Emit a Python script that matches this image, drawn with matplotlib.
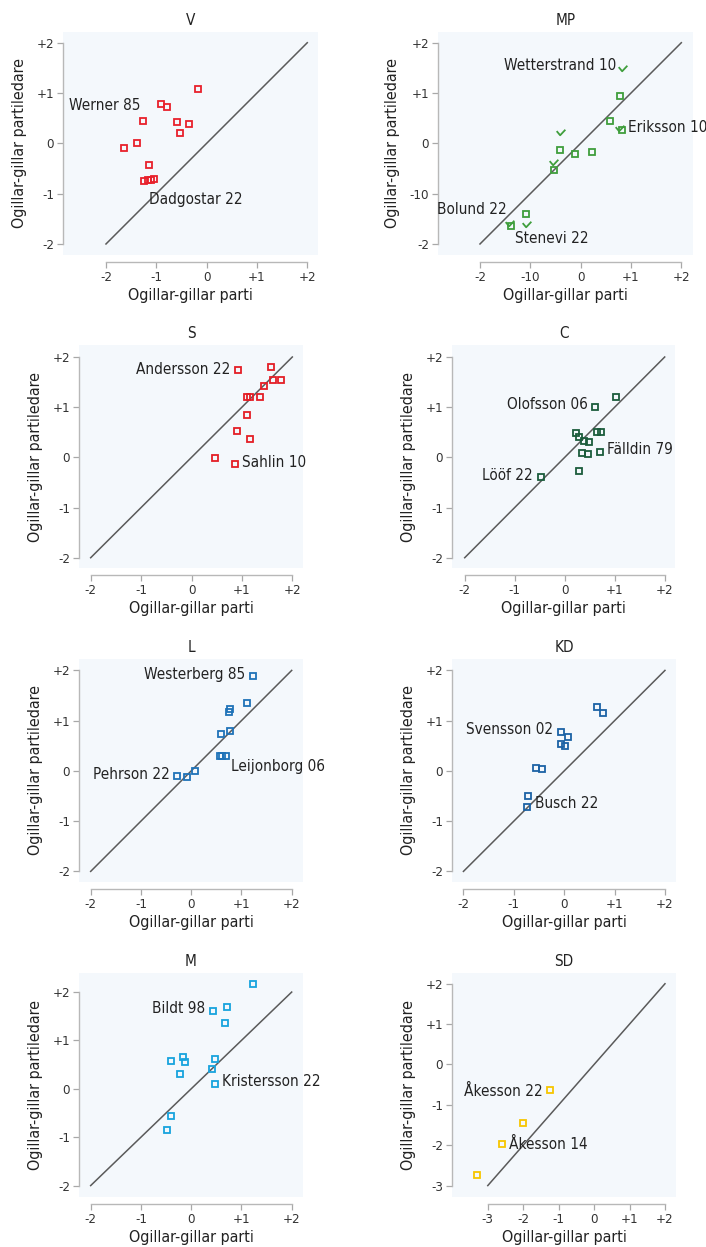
import matplotlib
matplotlib.use("Agg")
from matplotlib import pyplot as plt
from matplotlib.path import Path

plt.rcParams["font.family"] = ["DejaVu Sans"]
plt.rcParams["font.stretch"] = "condensed"

# ---- data (party score, leader score) ----
v_x = [-0.17, -0.91, -0.78, -1.26, -0.59, -0.36, -0.53, -1.39, -1.64, -1.15, -1.24, -1.17, -1.10, -1.05]
v_y = [1.09, 0.78, 0.72, 0.45, 0.43, 0.39, 0.21, 0.01, -0.09, -0.44, -0.74, -0.73, -0.72, -0.71]

mp_x = [0.82, 0.775, 0.59, 0.755, 0.83, -0.42, -0.42, -0.12, 0.23, -0.55, -0.52, -1.09, -1.42, -1.39, -1.09]
mp_y = [1.50, 0.94, 0.45, 0.30, 0.27, 0.23, -0.13, -0.22, -0.17, -0.38, -0.52, -1.40, -1.58, -1.64, -1.60]
mp_kind = ["ck", "sq", "sq", "ck", "sq", "ck", "sq", "sq", "sq", "ck", "sq", "sq", "ck", "sq", "ck"]

s_x = [0.92, 1.58, 1.62, 1.78, 1.44, 1.10, 1.16, 1.35, 1.10, 0.90, 1.16, 0.47, 0.86]
s_y = [1.74, 1.80, 1.55, 1.55, 1.42, 1.20, 1.20, 1.20, 0.84, 0.52, 0.37, -0.01, -0.13]

c_x = [1.02, 0.61, 0.23, 0.28, 0.64, 0.72, 0.39, 0.48, 0.34, 0.47, 0.71, 0.28, -0.47]
c_y = [1.21, 1.01, 0.49, 0.41, 0.51, 0.51, 0.33, 0.31, 0.08, 0.06, 0.11, -0.28, -0.39]

l_x = [1.24, 1.11, 0.77, 0.75, 0.78, 0.60, 0.57, 0.62, 0.69, 0.08, -0.08, -0.29]
l_y = [1.88, 1.36, 1.24, 1.18, 0.79, 0.73, 0.30, 0.30, 0.30, 0.00, -0.13, -0.10]

kd_x = [0.65, 0.77, -0.07, 0.07, -0.06, 0.01, -0.55, -0.44, -0.71, -0.74]
kd_y = [1.27, 1.16, 0.77, 0.68, 0.54, 0.49, 0.05, 0.03, -0.50, -0.71]

m_x = [1.23, 0.72, 0.43, 0.68, -0.17, -0.13, -0.40, -0.22, 0.47, 0.42, 0.48, -0.41, -0.48]
m_y = [2.17, 1.70, 1.61, 1.36, 0.66, 0.56, 0.58, 0.31, 0.62, 0.40, 0.11, -0.56, -0.85]

sd_x = [-1.25, -2.00, -2.60, -3.31]
sd_y = [-0.64, -1.44, -1.96, -2.74]

# marker labels: (text, index of labelled point)
v_labels = [("Werner 85", 3), ("Dadgostar 22", 11)]
mp_labels = [("Wetterstrand 10", 0), ("Eriksson 10", 4), ("Bolund 22", 13), ("Stenevi 22", 14)]
s_labels = [("Andersson 22", 0), ("Sahlin 10", 12)]
c_labels = [("Olofsson 06", 1), ("Fälldin 79", 10), ("Lööf 22", 12)]
l_labels = [("Westerberg 85", 0), ("Leijonborg 06", 8), ("Pehrson 22", 11)]
kd_labels = [("Svensson 02", 2), ("Busch 22", 9)]
m_labels = [("Bildt 98", 2), ("Kristersson 22", 10)]
sd_labels = [("Åkesson 22", 0), ("Åkesson 14", 2)]

ticks_2 = [-2, -1, 0, 1, 2]
ticklabels_2 = ["-2", "-1", "0", "+1", "+2"]
mp_ticklabels = ["-2", "-10", "0", "+1", "+2"]
ticks_sd = [-3, -2, -1, 0, 1, 2]
ticklabels_sd = ["-3", "-2", "-1", "0", "+1", "+2"]

W, H = 706, 1247
BG = "#f4f8fc"
check = Path([(-0.55, 0.2), (-0.05, -0.4), (0.7, 0.4)],
             [Path.MOVETO, Path.LINETO, Path.LINETO])

fig = plt.figure(figsize=(W / 100, H / 100), dpi=100)


def panel(box, xlim, ylim, title, xs, ys, color, labels, label_offsets,
          ticks=ticks_2, xtl=ticklabels_2, ytl=ticklabels_2, kinds=None):
    left, top, right, bottom = box
    ax = fig.add_axes([left / W, 1 - bottom / H, (right - left) / W, (bottom - top) / H])
    ax.set_facecolor(BG)
    ax.set_xlim(*xlim)
    ax.set_ylim(*ylim)
    lo, hi = ticks[0], ticks[-1]
    ax.plot([lo, hi], [lo, hi], color="#5a5a5a", lw=1.1, zorder=2)

    if kinds is None:
        kinds = ["sq"] * len(xs)
    for kind, mk in (("sq", "s"), ("ck", check)):
        px = [x for x, k in zip(xs, kinds) if k == kind]
        py = [y for y, k in zip(ys, kinds) if k == kind]
        if px:
            ax.plot(px, py, ls="none", marker=mk, ms=4.3 if kind == "sq" else 7,
                    mfc="none", mec=color, mew=1.3, zorder=3)

    for (txt, i), (dx, dy, ha) in zip(labels, label_offsets):
        ax.annotate(txt, (xs[i], ys[i]), xytext=(dx, dy), textcoords="offset pixels",
                    ha=ha, va="center", fontsize=11, color="#222222")

    for side in ("top", "right"):
        ax.spines[side].set_visible(False)
    ax.spines["left"].set_bounds(lo, hi)
    ax.spines["bottom"].set_bounds(lo, hi)
    ax.spines["bottom"].set_position(("outward", 5))
    for side in ("left", "bottom"):
        ax.spines[side].set_color("#b8b8b8")
        ax.spines[side].set_linewidth(1.0)
    ax.set_xticks(ticks)
    ax.set_xticklabels(xtl)
    ax.set_yticks(ticks)
    ax.set_yticklabels(ytl)
    ax.tick_params(direction="out", length=4, width=0.9, color="#a8a8a8",
                   labelsize=9.5, labelcolor="#333333", pad=2.5)
    ax.set_title(title, fontsize=11, color="#222222", pad=5)
    ax.set_xlabel("Ogillar-gillar parti", fontsize=11.5, color="#222222", labelpad=3)
    ax.set_ylabel("Ogillar-gillar partiledare", fontsize=11.5, color="#222222", labelpad=7)
    return ax


panel((63, 32, 318, 255), (-2.854, 2.213), (-2.219, 2.213), "V", v_x, v_y, "#e8212b",
      v_labels, [(-3, 15, "right"), (1, -19, "left")])
panel((438, 32, 693, 255), (-2.834, 2.232), (-2.219, 2.213), "MP", mp_x, mp_y, "#3f9e3c",
      mp_labels, [(-6, 2, "right"), (6, 2, "left"), (-4, 16, "right"), (-11, -15, "left")],
      xtl=mp_ticklabels, ytl=mp_ticklabels, kinds=mp_kind)
panel((79, 345, 303, 568), (-2.232, 2.212), (-2.205, 2.239), "S", s_x, s_y, "#e41e26",
      s_labels, [(-8, 1, "right"), (7, 1, "left")])
panel((452, 345, 675, 568), (-2.254, 2.206), (-2.205, 2.239), "C", c_x, c_y, "#1b5c3c",
      c_labels, [(-7, 2, "right"), (7, 2, "left"), (-8, 1, "right")])
panel((79, 659, 303, 882), (-2.232, 2.225), (-2.211, 2.227), "L", l_x, l_y, "#1f72b8",
      l_labels, [(-8, 2, "right"), (5, -11, "left"), (-7, 1, "right")])
panel((452, 659, 676, 882), (-2.227, 2.219), (-2.211, 2.227), "KD", kd_x, kd_y, "#1b62a5",
      kd_labels, [(-8, 3, "right"), (8, 3, "left")])
panel((79, 973, 303, 1197), (-2.232, 2.225), (-2.236, 2.394), "M", m_x, m_y, "#17a3dd",
      m_labels, [(-8, 2, "right"), (7, 2, "left")])
panel((452, 973, 676, 1197), (-4.01, 2.311), (-3.283, 2.266), "SD", sd_x, sd_y, "#f7c600",
      sd_labels, [(-7, -1, "right"), (7, -1, "left")],
      ticks=ticks_sd, xtl=ticklabels_sd, ytl=ticklabels_sd)

fig.savefig("out.png", dpi=100)
